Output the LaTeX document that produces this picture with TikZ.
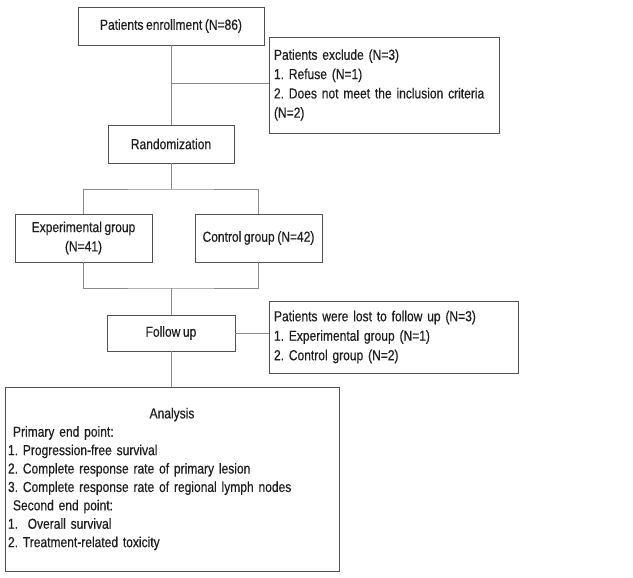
\documentclass[tikz,border=0pt]{standalone}
\usepackage{fontspec}
\setmainfont{Liberation Sans}[FakeStretch=0.83,WordSpace=0.78,FakeBold=0.4]
\frenchspacing
\definecolor{boxc}{HTML}{505050}
\definecolor{linec}{HTML}{8A8A8A}
\definecolor{txtc}{HTML}{1E1E1E}
\begin{document}
\frenchspacing
\begin{tikzpicture}[x=1pt,y=-1pt,
  box/.style={draw=boxc,line width=0.8pt,inner sep=0pt,text=txtc,
    font=\fontsize{14.5}{19.3}\selectfont\frenchspacing},
  conn/.style={draw=linec,line width=0.8pt}]
\useasboundingbox (0,0) rectangle (633,578);
\fill[white] (0,0) rectangle (633,578);
\node[box,minimum width=186pt,minimum height=38pt] (en) at (171,26) {Patients enrollment (N=86)};
\node[box,minimum width=230pt,minimum height=96pt,text width=220pt,align=left] (ex) at (384,85)
  {Patients exclude (N=3)\\1. Refuse (N=1)\\2. Does not meet the inclusion criteria\\(N=2)};
\node[box,minimum width=126pt,minimum height=38pt] (rnd) at (171,144) {Randomization};
\node[box,minimum width=137pt,minimum height=48pt,align=center] (exp) at (83.5,238) {Experimental group\\(N=41)};
\node[box,minimum width=127pt,minimum height=48pt] (ctl) at (258.5,238) {Control group (N=42)};
\node[box,minimum width=128pt,minimum height=36pt] (fu) at (171,333) {Follow up};
\node[box,minimum width=249pt,minimum height=72pt,text width=239pt,align=left,
  font=\fontsize{14.5}{19.5}\selectfont\frenchspacing] (lost) at (393.5,337)
  {Patients were lost to follow up (N=3)\\1. Experimental group (N=1)\\2. Control group (N=2)};
\node[box,minimum width=334pt,minimum height=184pt,text width=328pt,align=left,
  font=\fontsize{14.5}{18.4}\selectfont\frenchspacing] (ana) at (172,479)
  {\makebox[328pt]{Analysis}\\
   \hspace*{5pt}Primary end point:\\
   1. Progression-free survival\\
   2. Complete response rate of primary lesion\\
   3. Complete response rate of regional lymph nodes\\
   \hspace*{5pt}Second end point:\\
   1.\ \ Overall survival\\
   2. Treatment-related toxicity};
\coordinate (j1) at (171,83);
\coordinate (s1) at (171,189);
\coordinate (m1) at (171,288);
\draw[conn] (en) -- (rnd);
\draw[conn] (j1) -- (j1 -| ex.west);
\draw[conn] (rnd) -- (s1);
\draw[conn] (exp.north) |- (s1) -| (ctl.north);
\draw[conn] (exp.south) |- (m1) -| (ctl.south);
\draw[conn] (m1) -- (fu.north);
\draw[conn] (fu.east) -- (fu.east -| lost.west);
\draw[conn] (fu.south) -- (fu.south |- ana.north);
\end{tikzpicture}
\end{document}
